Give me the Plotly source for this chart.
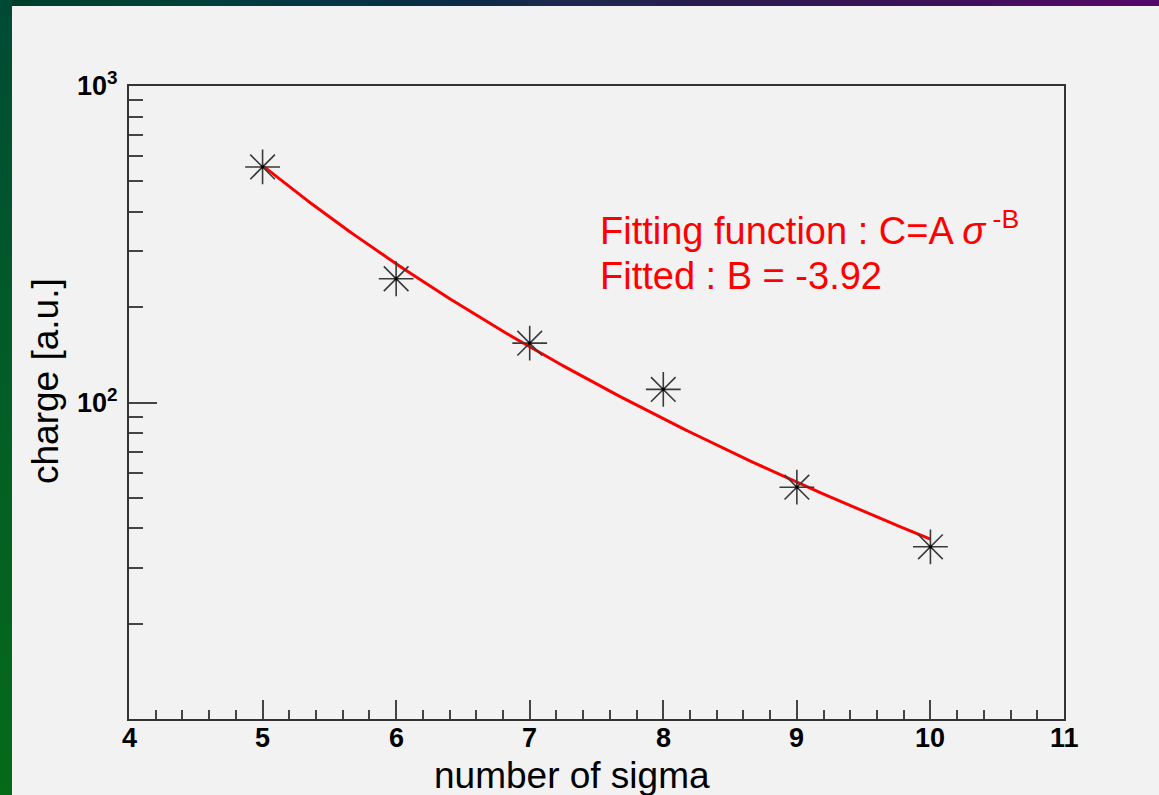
import numpy as np
import plotly.graph_objects as go

# Measured charge versus number of sigma
sigma = [5, 6, 7, 8, 9, 10]
charge = [555, 246, 154, 110, 54, 35]

# Power-law fit parameters
FIT_A = 3.08e5
FIT_B = -3.92

x_ticks = [4, 5, 6, 7, 8, 9, 10, 11]
y_ticks = [100, 1000]
y_ticktext = ["<b>10<sup>2</sup></b>", "<b>10<sup>3</sup></b>"]
y_minor = [m * 10 ** e for e in (1, 2) for m in range(2, 10)]

W, H = 1159, 795
L, R, T, B = 129, 1064, 86, 719


def px_x(p):
    return (p - L) / (R - L)


def px_y(p):
    return (B - p) / (B - T)


fig = go.Figure()

# fitted curve
s_fit = np.linspace(min(sigma), max(sigma), 200)
c_fit = FIT_A * s_fit ** FIT_B
fig.add_trace(go.Scatter(x=s_fit, y=c_fit, mode="lines",
                         line=dict(color="#ff0000", width=3),
                         hoverinfo="skip", showlegend=False))

# data points as asterisks with a centre dot
fig.add_trace(go.Scatter(x=sigma, y=charge, mode="markers",
                         marker=dict(symbol="asterisk-open", size=29, color="#3a3a3a",
                                     line=dict(color="#3a3a3a", width=1.6)),
                         showlegend=False))
fig.add_trace(go.Scatter(x=sigma, y=charge, mode="markers",
                         marker=dict(symbol="square", size=3, color="#000000"),
                         hoverinfo="skip", showlegend=False))

font_main = "Liberation Sans, Arial, sans-serif"
tick_font = dict(family=font_main, size=27, color="#000000")

fig.update_xaxes(
    range=[4, 11], tickmode="array", tickvals=x_ticks, showticklabels=False,
    ticks="inside", ticklen=19, tickwidth=1.6, tickcolor="#444444",
    minor=dict(dtick=0.2, ticks="inside", ticklen=9, tickwidth=1.6,
               tickcolor="#444444", showgrid=False),
    showline=True, linecolor="#333333", linewidth=2, mirror=True,
    showgrid=False, zeroline=False,
)
fig.update_yaxes(
    type="log", range=[1, 3], tickmode="array", tickvals=y_ticks,
    ticktext=y_ticktext,
    ticks="inside", ticklen=28, tickwidth=1.6, tickcolor="#444444",
    minor=dict(tickmode="array", tickvals=y_minor, ticks="inside",
               ticklen=14, tickwidth=1.6, tickcolor="#444444", showgrid=False),
    showline=True, linecolor="#333333", linewidth=2, mirror=True,
    showgrid=False, zeroline=False,
    ticklabelstandoff=4,
    tickfont=tick_font,
)

# slide frame: gradient strips along the top and left edges
def lerp_color(stops, p):
    for (p0, c0), (p1, c1) in zip(stops[:-1], stops[1:]):
        if p0 <= p <= p1:
            t = (p - p0) / (p1 - p0) if p1 > p0 else 0
            a = [int(c0[i:i + 2], 16) for i in (1, 3, 5)]
            b = [int(c1[i:i + 2], 16) for i in (1, 3, 5)]
            return "#" + "".join(f"{round(a[k] + (b[k] - a[k]) * t):02x}" for k in range(3))
    return stops[-1][1]


top_stops = [(0, "#003d2a"), (160, "#004235"), (320, "#053646"), (480, "#0c2944"),
             (560, "#1e2a50"), (720, "#2a1a50"), (920, "#3c1258"), (1159, "#55086a")]
left_stops = [(0, "#004a35"), (300, "#015a2a"), (795, "#066a18")]

shapes = []
step = 16
for x0 in range(0, W, step):
    x1 = min(W, x0 + step)
    shapes.append(dict(type="rect", xref="paper", yref="paper", layer="below",
                       x0=px_x(x0), x1=px_x(x1), y0=px_y(6), y1=px_y(0),
                       line=dict(width=0),
                       fillcolor=lerp_color(top_stops, (x0 + x1) / 2)))
for y0 in range(0, H, step):
    y1 = min(H, y0 + step)
    shapes.append(dict(type="rect", xref="paper", yref="paper", layer="below",
                       x0=px_x(0), x1=px_x(12), y0=px_y(y1), y1=px_y(y0),
                       line=dict(width=0),
                       fillcolor=lerp_color(left_stops, (y0 + y1) / 2)))

# x tick labels placed at the tick values just under the frame
annotations = [
    dict(text=f"<b>{v}</b>", xref="x", yref="paper", x=v, y=px_y(738),
         xanchor="center", yanchor="middle", showarrow=False, font=tick_font)
    for v in x_ticks
]

annotations += [
    dict(text="number of sigma", xref="paper", yref="paper",
         x=px_x(572), y=px_y(775), xanchor="center", yanchor="middle",
         showarrow=False, font=dict(family=font_main, size=37, color="#000000")),
    dict(text="charge [a.u.]", xref="paper", yref="paper", textangle=-90,
         x=px_x(45), y=px_y(381), xanchor="center", yanchor="middle",
         showarrow=False, font=dict(family=font_main, size=37, color="#000000")),
    dict(text="Fitting function : C=A <i>σ</i><sup> -B</sup>", xref="paper", yref="paper",
         x=px_x(598), y=px_y(228), xanchor="left", yanchor="middle",
         showarrow=False, font=dict(family=font_main, size=38, color="#ff0000")),
    dict(text=f"Fitted : B = {FIT_B:.2f}", xref="paper", yref="paper",
         x=px_x(598), y=px_y(276), xanchor="left", yanchor="middle",
         showarrow=False, font=dict(family=font_main, size=38, color="#ff0000")),
]

fig.update_layout(
    width=W, height=H,
    margin=dict(l=L, r=W - R, t=T, b=H - B, autoexpand=False),
    paper_bgcolor="#f2f2f2", plot_bgcolor="#f2f2f2",
    shapes=shapes, annotations=annotations,
    showlegend=False,
)

fig.write_html("out.html")
